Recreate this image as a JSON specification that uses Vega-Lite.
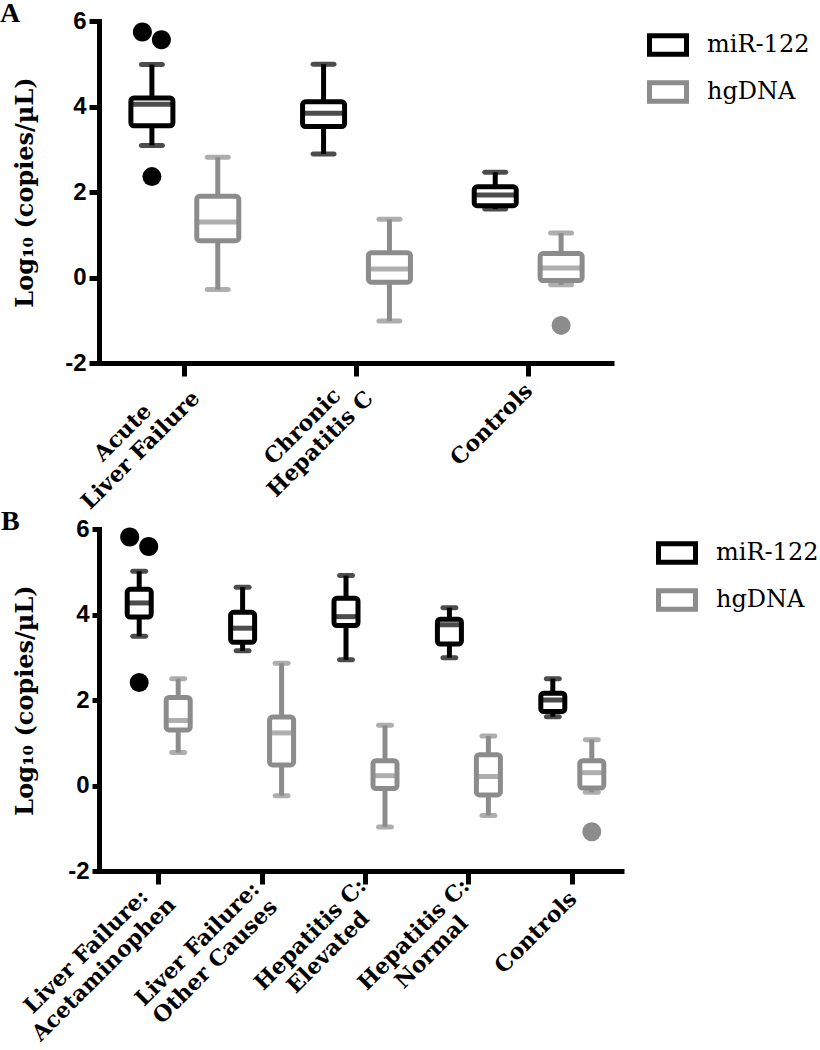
{
  "$schema": "https://vega.github.io/schema/vega-lite/v6.json",
  "padding": {"left": 0, "top": 0, "right": 0, "bottom": 0},
  "background": "white",
  "bounds": "flush",
  "spacing": 166,
  "datasets": {
    "boxA": [
      {"group": "Acute|Liver Failure", "series": "miR-122", "lo": 3.09, "q1": 3.55, "med": 4.05, "q3": 4.2, "hi": 4.98},
      {"group": "Acute|Liver Failure", "series": "hgDNA", "lo": -0.28, "q1": 0.86, "med": 1.3, "q3": 1.9, "hi": 2.81},
      {"group": "Chronic|Hepatitis C", "series": "miR-122", "lo": 2.89, "q1": 3.53, "med": 3.84, "q3": 4.11, "hi": 4.99},
      {"group": "Chronic|Hepatitis C", "series": "hgDNA", "lo": -1.02, "q1": -0.11, "med": 0.2, "q3": 0.58, "hi": 1.36},
      {"group": "Controls", "series": "miR-122", "lo": 1.6, "q1": 1.68, "med": 1.93, "q3": 2.12, "hi": 2.46},
      {"group": "Controls", "series": "hgDNA", "lo": -0.17, "q1": -0.07, "med": 0.22, "q3": 0.56, "hi": 1.04}
    ],
    "outA": [
      {"group": "Acute|Liver Failure", "series": "miR-122", "value": 5.74},
      {"group": "Acute|Liver Failure", "series": "miR-122", "value": 5.56},
      {"group": "Acute|Liver Failure", "series": "miR-122", "value": 2.36},
      {"group": "Controls", "series": "hgDNA", "value": -1.12}
    ],
    "boxB": [
      {"group": "Liver Failure:|Acetaminophen", "series": "miR-122", "lo": 3.49, "q1": 3.94, "med": 4.27, "q3": 4.59, "hi": 5.01},
      {"group": "Liver Failure:|Acetaminophen", "series": "hgDNA", "lo": 0.77, "q1": 1.3, "med": 1.52, "q3": 2.06, "hi": 2.5},
      {"group": "Liver Failure:|Other Causes", "series": "miR-122", "lo": 3.15, "q1": 3.35, "med": 3.68, "q3": 4.05, "hi": 4.64},
      {"group": "Liver Failure:|Other Causes", "series": "hgDNA", "lo": -0.24, "q1": 0.48, "med": 1.23, "q3": 1.6, "hi": 2.86},
      {"group": "Hepatitis C:|Elevated", "series": "miR-122", "lo": 2.94, "q1": 3.74, "med": 3.95, "q3": 4.38, "hi": 4.91},
      {"group": "Hepatitis C:|Elevated", "series": "hgDNA", "lo": -0.97, "q1": -0.07, "med": 0.23, "q3": 0.58, "hi": 1.41},
      {"group": "Hepatitis C:|Normal", "series": "miR-122", "lo": 2.99, "q1": 3.31, "med": 3.76, "q3": 3.89, "hi": 4.16},
      {"group": "Hepatitis C:|Normal", "series": "hgDNA", "lo": -0.7, "q1": -0.22, "med": 0.21, "q3": 0.72, "hi": 1.16},
      {"group": "Controls", "series": "miR-122", "lo": 1.61, "q1": 1.73, "med": 2.0, "q3": 2.16, "hi": 2.5},
      {"group": "Controls", "series": "hgDNA", "lo": -0.16, "q1": -0.06, "med": 0.3, "q3": 0.58, "hi": 1.07}
    ],
    "outB": [
      {"group": "Liver Failure:|Acetaminophen", "series": "miR-122", "value": 5.81},
      {"group": "Liver Failure:|Acetaminophen", "series": "miR-122", "value": 5.59},
      {"group": "Liver Failure:|Acetaminophen", "series": "miR-122", "value": 2.41},
      {"group": "Controls", "series": "hgDNA", "value": -1.08}
    ]
  },
  "resolve": {
    "scale": {"x": "independent", "y": "independent", "xOffset": "independent", "color": "independent", "stroke": "independent", "shape": "independent"},
    "legend": {"stroke": "independent", "color": "independent"}
  },
  "vconcat": [
    {
      "width": 515,
      "height": 342,
      "title": {"text": "A", "anchor": "start", "frame": "group", "font": "Liberation Serif", "fontSize": 28, "fontWeight": "bold", "color": "black", "dx": -99, "dy": 19, "offset": 0},
      "data": {"name": "boxA"},
      "encoding": {
        "x": {
          "field": "group", "type": "nominal",
          "sort": ["Acute|Liver Failure", "Chronic|Hepatitis C", "Controls"],
          "scale": {"paddingInner": 0, "paddingOuter": 0},
          "title": null,
          "axis": {
            "labelExpr": "split(datum.label, '|')",
            "labelAngle": -45, "labelAlign": "center", "labelBaseline": "middle",
            "labelFont": "DejaVu Serif", "labelFontWeight": "bold", "labelFontSize": 22, "labelLineHeight": 25,
            "labelOverlap": false, "labelBound": false, "labelFlush": false, "labelLimit": 400,
            "tickSize": 13,
            "labelOffset": {"condition": [{"test": "datum.value == 'Acute|Liver Failure'", "value": -62}, {"test": "datum.value == 'Chronic|Hepatitis C'", "value": -54}], "value": -36.5},
            "labelPadding": {"condition": [{"test": "datum.value == 'Acute|Liver Failure'", "value": 56}, {"test": "datum.value == 'Chronic|Hepatitis C'", "value": 50}], "value": 48}
          }
        },
        "xOffset": {"field": "series", "type": "nominal", "sort": ["miR-122", "hgDNA"], "scale": {"paddingInner": 0, "paddingOuter": 0.303}}
      },
      "layer": [
        {
          "mark": {"type": "rule", "strokeWidth": 5},
          "encoding": {
            "y": {"field": "lo", "type": "quantitative", "title": "Log₁₀ (copies/µL)", "scale": {"domain": [-2, 6], "nice": false, "zero": false},
              "axis": {"values": [-2, 0, 2, 4, 6], "labelExpr": "replace(datum.label, '−', '-')", "labelFont": "Liberation Sans", "labelFontWeight": "bold", "labelFontSize": 24, "tickSize": 10, "labelPadding": 3, "titleFont": "DejaVu Serif", "titleFontWeight": "bold", "titleFontSize": 24, "titlePadding": 27, "domainCap": "square"}},
            "y2": {"field": "hi"},
            "color": {"field": "series", "type": "nominal", "scale": {"domain": ["hgDNA", "miR-122"], "range": ["#8c8c8c", "#000000"]}, "legend": null}
          }
        },
        {
          "mark": {"type": "tick", "thickness": 5, "size": 26, "cornerRadius": 2.5},
          "encoding": {
            "y": {"field": "hi", "type": "quantitative", "title": "Log₁₀ (copies/µL)", "scale": {"domain": [-2, 6], "nice": false, "zero": false}},
            "color": {"field": "series", "type": "nominal", "scale": {"domain": ["hgDNA", "miR-122"], "range": ["#8c8c8c", "#000000"]}, "legend": null}
          }
        },
        {
          "mark": {"type": "tick", "thickness": 5, "size": 26, "cornerRadius": 2.5},
          "encoding": {
            "y": {"field": "lo", "type": "quantitative", "title": "Log₁₀ (copies/µL)", "scale": {"domain": [-2, 6], "nice": false, "zero": false}},
            "color": {"field": "series", "type": "nominal", "scale": {"domain": ["hgDNA", "miR-122"], "range": ["#8c8c8c", "#000000"]}, "legend": null}
          }
        },
        {
          "mark": {"type": "bar", "width": 42, "fill": "white", "strokeWidth": 5, "cornerRadius": 3},
          "encoding": {
            "y": {"field": "q1", "type": "quantitative", "title": "Log₁₀ (copies/µL)", "scale": {"domain": [-2, 6], "nice": false, "zero": false}},
            "y2": {"field": "q3"},
            "stroke": {"field": "series", "type": "nominal", "scale": {"domain": ["miR-122", "hgDNA"], "range": ["#000000", "#8c8c8c"]},
              "legend": {"title": null, "orient": "right", "offset": 30, "padding": 3, "symbolType": "M-1,-0.5H1V0.5H-1Z", "symbolSize": 1369, "symbolStrokeWidth": 5, "symbolFillColor": "white", "labelFont": "DejaVu Serif", "labelFontSize": 24, "labelColor": "black", "labelOffset": 18, "rowPadding": 6}}
          }
        },
        {
          "mark": {"type": "tick", "thickness": 5, "size": 42},
          "encoding": {
            "y": {"field": "med", "type": "quantitative", "title": "Log₁₀ (copies/µL)", "scale": {"domain": [-2, 6], "nice": false, "zero": false}},
            "color": {"field": "series", "type": "nominal", "scale": {"domain": ["hgDNA", "miR-122"], "range": ["#8c8c8c", "#000000"]}, "legend": null}
          }
        },
        {
          "data": {"name": "outA"},
          "mark": {"type": "point", "filled": true, "size": 361, "opacity": 1},
          "encoding": {
            "y": {"field": "value", "type": "quantitative", "title": "Log₁₀ (copies/µL)", "scale": {"domain": [-2, 6], "nice": false, "zero": false}},
            "shape": {"condition": [{"test": "datum.value > 5.7", "value": "M-2,0A1,1,0,1,1,0,0A1,1,0,1,1,-2,0Z"}, {"test": "datum.value > 5.5", "value": "M0,0A1,1,0,1,1,2,0A1,1,0,1,1,0,0Z"}], "value": "circle"},
            "color": {"field": "series", "type": "nominal", "scale": {"domain": ["hgDNA", "miR-122"], "range": ["#8c8c8c", "#000000"]}, "legend": null}
          }
        }
      ]
    },
    {
      "width": 525,
      "height": 342,
      "title": {"text": "B", "anchor": "start", "frame": "group", "font": "Liberation Serif", "fontSize": 28, "fontWeight": "bold", "color": "black", "dx": -98, "dy": 19, "offset": 0},
      "data": {"name": "boxB"},
      "encoding": {
        "x": {
          "field": "group", "type": "nominal",
          "sort": ["Liver Failure:|Acetaminophen", "Liver Failure:|Other Causes", "Hepatitis C:|Elevated", "Hepatitis C:|Normal", "Controls"],
          "scale": {"paddingInner": 0, "paddingOuter": 0.0387, "align": 1},
          "title": null,
          "axis": {
            "labelExpr": "split(datum.label, '|')",
            "labelAngle": -45, "labelAlign": "center", "labelBaseline": "middle",
            "labelFont": "DejaVu Serif", "labelFontWeight": "bold", "labelFontSize": 22, "labelLineHeight": 25,
            "labelOverlap": false, "labelBound": false, "labelFlush": false, "labelLimit": 400,
            "tickSize": 13,
            "labelOffset": {"condition": [{"test": "datum.value == 'Liver Failure:|Acetaminophen'", "value": -72.5}, {"test": "datum.value == 'Liver Failure:|Other Causes'", "value": -64.7}, {"test": "datum.value == 'Controls'", "value": -36.5}], "value": -55.1},
            "labelPadding": {"condition": [{"test": "datum.value == 'Liver Failure:|Acetaminophen'", "value": 67}, {"test": "datum.value == 'Liver Failure:|Other Causes'", "value": 59.5}, {"test": "datum.value == 'Controls'", "value": 48}], "value": 50}
          }
        },
        "xOffset": {"field": "series", "type": "nominal", "sort": ["miR-122", "hgDNA"], "scale": {"paddingInner": 0, "paddingOuter": 0.326}}
      },
      "layer": [
        {
          "mark": {"type": "rule", "strokeWidth": 5},
          "encoding": {
            "y": {"field": "lo", "type": "quantitative", "title": "Log₁₀ (copies/µL)", "scale": {"domain": [-2, 6], "nice": false, "zero": false},
              "axis": {"values": [-2, 0, 2, 4, 6], "labelExpr": "replace(datum.label, '−', '-')", "labelFont": "Liberation Sans", "labelFontWeight": "bold", "labelFontSize": 24, "tickSize": 7, "labelPadding": 3, "titleFont": "DejaVu Serif", "titleFontWeight": "bold", "titleFontSize": 24, "titlePadding": 30, "domainCap": "square"}},
            "y2": {"field": "hi"},
            "color": {"field": "series", "type": "nominal", "scale": {"domain": ["hgDNA", "miR-122"], "range": ["#8c8c8c", "#000000"]}, "legend": null}
          }
        },
        {
          "mark": {"type": "tick", "thickness": 5, "size": 18, "cornerRadius": 2.5},
          "encoding": {
            "y": {"field": "hi", "type": "quantitative", "title": "Log₁₀ (copies/µL)", "scale": {"domain": [-2, 6], "nice": false, "zero": false}},
            "color": {"field": "series", "type": "nominal", "scale": {"domain": ["hgDNA", "miR-122"], "range": ["#8c8c8c", "#000000"]}, "legend": null}
          }
        },
        {
          "mark": {"type": "tick", "thickness": 5, "size": 18, "cornerRadius": 2.5},
          "encoding": {
            "y": {"field": "lo", "type": "quantitative", "title": "Log₁₀ (copies/µL)", "scale": {"domain": [-2, 6], "nice": false, "zero": false}},
            "color": {"field": "series", "type": "nominal", "scale": {"domain": ["hgDNA", "miR-122"], "range": ["#8c8c8c", "#000000"]}, "legend": null}
          }
        },
        {
          "mark": {"type": "bar", "width": 24, "fill": "white", "strokeWidth": 5, "cornerRadius": 3},
          "encoding": {
            "y": {"field": "q1", "type": "quantitative", "title": "Log₁₀ (copies/µL)", "scale": {"domain": [-2, 6], "nice": false, "zero": false}},
            "y2": {"field": "q3"},
            "stroke": {"field": "series", "type": "nominal", "scale": {"domain": ["miR-122", "hgDNA"], "range": ["#000000", "#8c8c8c"]},
              "legend": {"title": null, "orient": "right", "offset": 29, "padding": 3, "symbolType": "M-1,-0.5H1V0.5H-1Z", "symbolSize": 1369, "symbolStrokeWidth": 5, "symbolFillColor": "white", "labelFont": "DejaVu Serif", "labelFontSize": 24, "labelColor": "black", "labelOffset": 18, "rowPadding": 6}}
          }
        },
        {
          "mark": {"type": "tick", "thickness": 5, "size": 24},
          "encoding": {
            "y": {"field": "med", "type": "quantitative", "title": "Log₁₀ (copies/µL)", "scale": {"domain": [-2, 6], "nice": false, "zero": false}},
            "color": {"field": "series", "type": "nominal", "scale": {"domain": ["hgDNA", "miR-122"], "range": ["#8c8c8c", "#000000"]}, "legend": null}
          }
        },
        {
          "data": {"name": "outB"},
          "mark": {"type": "point", "filled": true, "size": 361, "opacity": 1},
          "encoding": {
            "y": {"field": "value", "type": "quantitative", "title": "Log₁₀ (copies/µL)", "scale": {"domain": [-2, 6], "nice": false, "zero": false}},
            "shape": {"condition": [{"test": "datum.value > 5.7", "value": "M-2,0A1,1,0,1,1,0,0A1,1,0,1,1,-2,0Z"}, {"test": "datum.value > 5.5", "value": "M0,0A1,1,0,1,1,2,0A1,1,0,1,1,0,0Z"}], "value": "circle"},
            "color": {"field": "series", "type": "nominal", "scale": {"domain": ["hgDNA", "miR-122"], "range": ["#8c8c8c", "#000000"]}, "legend": null}
          }
        }
      ]
    }
  ],
  "config": {
    "view": {"stroke": null},
    "axis": {"domainColor": "black", "tickColor": "black", "domainWidth": 5, "tickWidth": 5, "grid": false, "labelColor": "black", "titleColor": "black"}
  }
}
